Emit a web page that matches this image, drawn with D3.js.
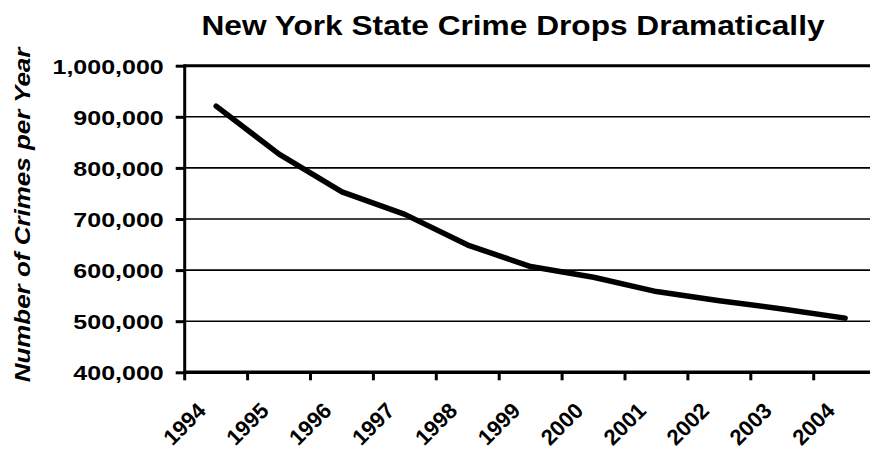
<!DOCTYPE html>
<html>
<head>
<meta charset="utf-8">
<script src="https://cdn.jsdelivr.net/npm/d3@7"></script>
<style>
  body { margin: 0; background: #fff; }
  text { font-family: 'Liberation Sans', Arial, sans-serif; font-weight: bold; fill: #000; }
</style>
</head>
<body>
<div id="viz"></div>
<script>
const years = ['1994', '1995', '1996', '1997', '1998', '1999', '2000', '2001', '2002', '2003', '2004'];
const crimes = [921000, 827000, 753000, 709000, 649000, 607000, 586000, 558000, 540000, 524000, 506000];
const yTicks = [400000, 500000, 600000, 700000, 800000, 900000, 1000000];

const w = 870;
const h = 451;
const plotLeft = 184.7;
const plotRight = 876.6;
const plotTop = 65.7;
const plotBottom = 372.3;

// stretch text along its baseline, the picture is wider than plain Arial
function stretch(sel, k) {
  sel.each(function () {
    const len = this.getComputedTextLength();
    d3.select(this).
    attr('textLength', len * k).
    attr('lengthAdjust', 'spacingAndGlyphs');
  });
}

var svg = d3.select('#viz').
append('svg').
attr('width', w).
attr('height', h);

const xScale = d3.scaleBand().
domain(years).
range([plotLeft, plotRight]).
padding(0);

const yScale = d3.scaleLinear().
domain([400000, 1000000]).
range([plotBottom, plotTop]);

//gridlines
svg.selectAll('.grid').
data(yTicks.slice(1)).
enter().
append('line').
attr('class', 'grid').
attr('x1', plotLeft).
attr('x2', plotRight).
attr('y1', d => yScale(d)).
attr('y2', d => yScale(d)).
attr('stroke', '#000').
attr('stroke-width', d => d == 1000000 ? 3 : 1.6);

//yAxis
const yAxis = d3.axisLeft(yScale).
tickValues(yTicks).
tickSize(9).
tickPadding(12).
tickFormat(d3.format(','));

const gy = svg.append('g').
attr('id', 'y-axis').
attr('transform', 'translate(' + plotLeft + ',0)').
call(yAxis);

gy.select('.domain').remove();
gy.selectAll('.tick line').
attr('stroke', '#000').
attr('stroke-width', 3);
gy.selectAll('.tick text').
style('font-size', '21px').
attr('dy', '0.36em').
call(stretch, 1.19);

svg.append('line').
attr('x1', plotLeft).
attr('x2', plotLeft).
attr('y1', plotTop - 1.5).
attr('y2', plotBottom + 1.5).
attr('stroke', '#000').
attr('stroke-width', 3);

//xAxis
svg.append('line').
attr('x1', plotLeft).
attr('x2', plotRight).
attr('y1', plotBottom).
attr('y2', plotBottom).
attr('stroke', '#000').
attr('stroke-width', 3.5);

svg.selectAll('.xtick').
data(years.concat(['end'])).
enter().
append('line').
attr('class', 'xtick').
attr('x1', d => d == 'end' ? plotRight : xScale(d)).
attr('x2', d => d == 'end' ? plotRight : xScale(d)).
attr('y1', plotBottom).
attr('y2', plotBottom + 8).
attr('stroke', '#000').
attr('stroke-width', 3);

svg.selectAll('.xlabel').
data(years).
enter().
append('text').
attr('class', 'xlabel').
text(d => d).
style('font-size', '22px').
attr('text-anchor', 'end').
attr('transform', d => 'translate(' + (xScale(d) + xScale.bandwidth() / 2 - 9) + ',412) rotate(-45)');

//line
const line = d3.line().
x((d, i) => xScale(years[i]) + xScale.bandwidth() / 2).
y(d => yScale(d));

svg.append('path').
datum(crimes).
attr('d', line).
attr('fill', 'none').
attr('stroke', '#000').
attr('stroke-width', 5.5).
attr('stroke-linejoin', 'round').
attr('stroke-linecap', 'round');

//titles
svg.append('text').
text('New York State Crime Drops Dramatically').
style('font-size', '28px').
attr('text-anchor', 'middle').
attr('x', 513).
attr('y', 35).
call(stretch, 1.13);

svg.append('text').
text('Number of Crimes per Year').
style('font-size', '22px').
style('font-style', 'italic').
attr('text-anchor', 'middle').
attr('transform', 'translate(30,215) rotate(-90)').
call(stretch, 1.18);
</script>
</body>
</html>
